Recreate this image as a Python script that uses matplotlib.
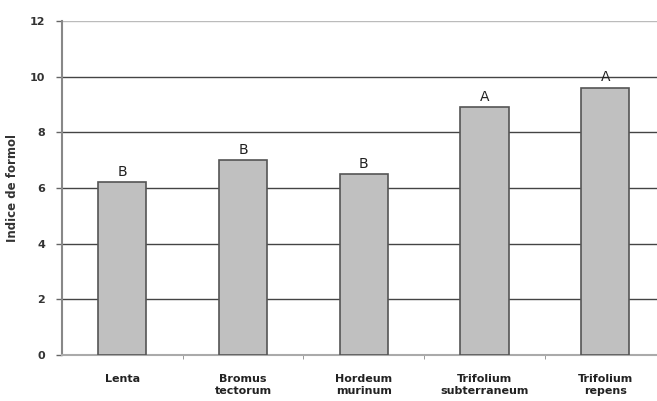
import matplotlib.pyplot as plt

categories = ['Lenta', 'Bromus\ntectorum', 'Hordeum\nmurinum', 'Trifolium\nsubterraneum', 'Trifolium\nrepens']
values = [6.2, 7.0, 6.5, 8.9, 9.6]
letters = ['B', 'B', 'B', 'A', 'A']

W, H = 657, 401
fig = plt.figure(figsize=(W / 100, H / 100), dpi=100)
# plot area runs slightly past the right edge in the original
ax = fig.add_axes([62 / W, (H - 355) / H, 603.5 / W, 334 / H])

x = list(range(len(categories)))
ax.bar(x, values, width=0.4, color='#c0c0c0', edgecolor='#555555', linewidth=1.2, zorder=3)
for xi, v, l in zip(x, values, letters):
    ax.text(xi, v + 0.12, l, ha='center', va='bottom', fontsize=10, color='#222222')

ax.set_xlim(-0.5, len(categories) - 0.5)
ax.set_ylim(0, 12)
ax.set_yticks(range(0, 13, 2))
ax.set_yticklabels([str(t) for t in range(0, 13, 2)], fontsize=8, fontweight='bold', color='#333333')
ax.yaxis.grid(True, color='#444444', linewidth=1.0, zorder=0)
ax.get_ygridlines()[-1].set_color('#bbbbbb')
ax.get_ygridlines()[0].set_visible(False)

ax.set_xticks(x)
ax.set_xticklabels(categories, fontsize=8, fontweight='bold', color='#222222', linespacing=1.2)
ax.tick_params(axis='x', length=0, pad=14)
ax.set_xticks([i + 0.5 for i in x[:-1]], minor=True)
ax.tick_params(axis='x', which='minor', length=3, color='#888888')
ax.tick_params(axis='y', length=4, color='#666666', width=1, pad=8)

for s in ['top', 'right']:
    ax.spines[s].set_visible(False)
ax.spines['left'].set_color('#888888')
ax.spines['left'].set_linewidth(1.5)
ax.spines['bottom'].set_color('#aaaaaa')
ax.spines['bottom'].set_linewidth(1.5)

ax.set_ylabel('Indice de formol', fontsize=8.5, fontweight='bold', color='#333333', labelpad=8)

fig.savefig('out.png', dpi=100)
